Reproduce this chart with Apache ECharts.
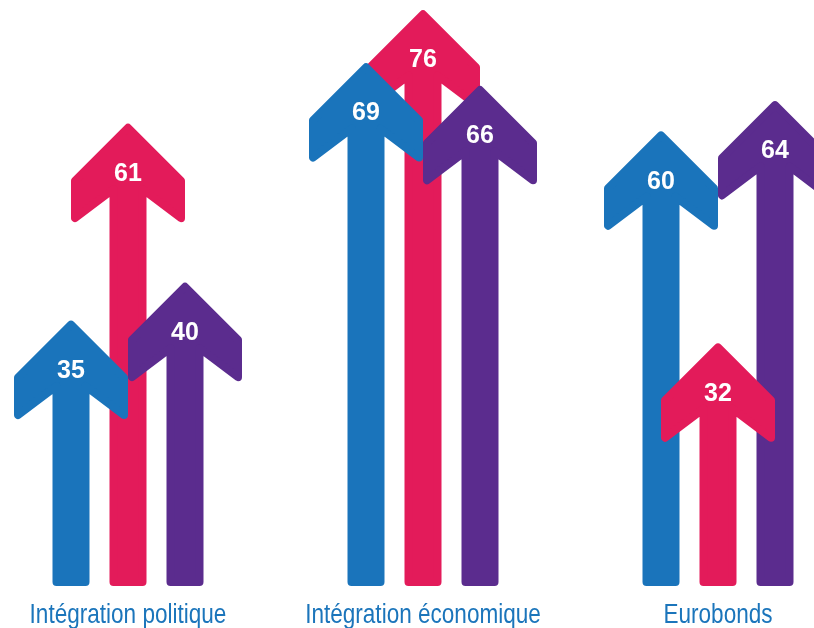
<!DOCTYPE html>
<html>
<head>
<meta charset="utf-8">
<script src="https://cdn.jsdelivr.net/npm/echarts@6/dist/echarts.min.js"></script>
<style>
html,body{margin:0;padding:0;background:#fff;}
#chart{width:814px;height:628px;}
</style>
</head>
<body>
<div id="chart"></div>
<script>
// ---- data ----
var categories = ['Intégration politique', 'Intégration économique', 'Eurobonds'];
var seriesNames = ['Bleu', 'Rouge', 'Violet'];
var blueValues = [35, 69, 60];
var redValues = [61, 76, 32];
var purpleValues = [40, 66, 64];
var seriesColors = ['#1a74bb', '#e31b5a', '#5b2c8e'];

var allValues = [blueValues, redValues, purpleValues];

// build data items: [categoryIndex, value, seriesIndex]
var items = [];
allValues.forEach(function (vals, s) {
  vals.forEach(function (v, c) { items.push([c, v, s]); });
});
// taller arrows drawn first, shorter ones on top
items.sort(function (a, b) { return b[1] - a[1]; });

var labelItems = categories.map(function (name, i) { return [i, 0]; });

var chart = echarts.init(document.getElementById('chart'), null, {renderer: 'canvas'});

var R = 4;           // corner rounding (stroke half width)
var SPACING = 57;    // spacing between arrows in a group (px)

function renderItem(params, api) {
  var c = api.value(0), v = api.value(1), s = api.value(2);
  var top = api.coord([c, v]);
  var base = api.coord([c, 0]);
  var cx = top[0] + (s - 1) * SPACING;
  var ty = top[1];
  var by = base[1];
  var pts = [
    [cx, ty + 3.7],
    [cx + 53, ty + 56.7],
    [cx + 53, ty + 94],
    [cx + 14.5, ty + 65],
    [cx + 14.5, by - R],
    [cx - 14.5, by - R],
    [cx - 14.5, ty + 65],
    [cx - 53, ty + 94],
    [cx - 53, ty + 56.7]
  ];
  var color = seriesColors[s];
  return {
    type: 'group',
    children: [
      {
        type: 'polygon',
        shape: {points: pts},
        style: {fill: color, stroke: color, lineWidth: 2 * R, lineJoin: 'round'}
      },
      {
        type: 'text',
        style: {
          text: String(v),
          x: cx,
          y: ty + 50,
          fill: '#ffffff',
          font: 'bold 25px "Liberation Sans", Arial, sans-serif',
          align: 'center',
          verticalAlign: 'middle'
        }
      }
    ]
  };
}

function renderLabel(params, api) {
  var c = api.value(0);
  var p = api.coord([c, 0]);
  return {
    type: 'text',
    x: p[0],
    y: p[1] + 29.5,
    scaleX: 0.82,
    style: {
      text: categories[c],
      x: 0,
      y: 0,
      fill: '#1b75bb',
      font: '27.5px "Liberation Sans", Arial, sans-serif',
      align: 'center',
      verticalAlign: 'middle'
    }
  };
}

chart.setOption({
  animation: false,
  backgroundColor: '#ffffff',
  grid: {left: 128, right: 96, top: 3, bottom: 42, containLabel: false},
  xAxis: {
    type: 'category',
    data: categories,
    boundaryGap: false,
    axisLine: {show: false},
    axisTick: {show: false},
    splitLine: {show: false},
    axisLabel: {show: false}
  },
  yAxis: {
    type: 'value',
    min: 0,
    max: 77,
    show: false,
    splitLine: {show: false}
  },
  series: [{
    type: 'custom',
    name: 'arrows',
    renderItem: renderItem,
    encode: {x: 0, y: 1},
    data: items,
    clip: false
  }, {
    type: 'custom',
    name: 'labels',
    renderItem: renderLabel,
    encode: {x: 0, y: 1},
    data: labelItems,
    clip: false,
    silent: true
  }]
});
</script>
</body>
</html>
